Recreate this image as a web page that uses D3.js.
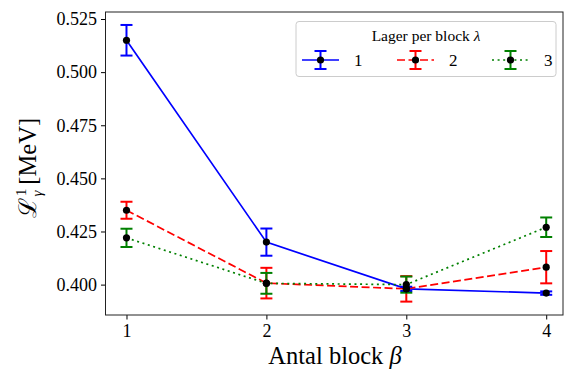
<!DOCTYPE html>
<html>
<head>
<meta charset="utf-8">
<script src="https://cdn.jsdelivr.net/npm/d3@7"></script>
<style>
  html, body { margin: 0; padding: 0; background: #fff; }
  svg { display: block; font-family: "Liberation Serif", "DejaVu Serif", serif; }
</style>
</head>
<body>
<svg id="chart" width="564" height="369"></svg>
<script>
// Number of blocks on the x axis
const blocks = [1, 2, 3, 4];
// Layers per block (legend entries)
const layers = ["1", "2", "3"];
// Mean values and errors for each layer count
const values1 = [0.515, 0.420, 0.398, 0.396];
const errors1 = [0.0072, 0.0064, 0.0010, 0.0008];
const values2 = [0.435, 0.4007, 0.398, 0.4082];
const errors2 = [0.0040, 0.0072, 0.0060, 0.0076];
const values3 = [0.422, 0.4006, 0.400, 0.427];
const errors3 = [0.0043, 0.0049, 0.0038, 0.0046];
const yTicks = [0.400, 0.425, 0.450, 0.475, 0.500, 0.525];

const series = [
  { name: layers[0], values: values1, errors: errors1, color: "#0000ff", dash: null },
  { name: layers[1], values: values2, errors: errors2, color: "#ff0000", dash: "8,3.5" },
  { name: layers[2], values: values3, errors: errors3, color: "#008000", dash: "2,3.6" }
];

const serif = "Liberation Serif, DejaVu Serif, serif";
const svg = d3.select("#chart");
const mLeft = 105.5, mRight = 563, mTop = 12, mBottom = 315;

const x = d3.scaleLinear().domain([0.85, 4.12]).range([mLeft, mRight]);
const y = d3.scaleLinear().domain([0.3857, 0.5283]).range([mBottom, mTop]);

// Axes
const xAxis = svg.append("g")
  .attr("transform", `translate(0,${mBottom})`)
  .call(d3.axisBottom(x).tickValues(blocks).tickFormat(d3.format("d")).tickSize(4.5).tickPadding(5));
const yAxis = svg.append("g")
  .attr("transform", `translate(${mLeft},0)`)
  .call(d3.axisLeft(y).tickValues(yTicks).tickFormat(d3.format(".3f")).tickSize(4.5).tickPadding(4));
[xAxis, yAxis].forEach(g => {
  g.attr("font-family", serif).attr("font-size", 18);
  g.select(".domain").remove();
  g.selectAll("line").attr("stroke", "#000").attr("stroke-width", 1);
  g.selectAll("text").attr("fill", "#000");
});

// Frame
svg.append("rect")
  .attr("x", mLeft).attr("y", mTop)
  .attr("width", mRight - mLeft).attr("height", mBottom - mTop)
  .attr("fill", "none").attr("stroke", "#222").attr("stroke-width", 1);

const plot = svg.append("g");
const line = d3.line().x((d, i) => x(blocks[i])).y(d => y(d));
const capW = 6;

series.forEach(s => {
  plot.append("path")
    .datum(s.values)
    .attr("d", line)
    .attr("fill", "none")
    .attr("stroke", s.color)
    .attr("stroke-width", 1.7)
    .attr("stroke-dasharray", s.dash);
});

series.forEach(s => {
  const g = plot.append("g");
  s.values.forEach((v, i) => {
    const cx = x(blocks[i]);
    const y0 = y(v - s.errors[i]), y1 = y(v + s.errors[i]);
    g.append("line").attr("x1", cx).attr("x2", cx).attr("y1", y0).attr("y2", y1)
      .attr("stroke", s.color).attr("stroke-width", 2);
    [y0, y1].forEach(yy => {
      g.append("line").attr("x1", cx - capW).attr("x2", cx + capW).attr("y1", yy).attr("y2", yy)
        .attr("stroke", s.color).attr("stroke-width", 2);
    });
  });
});

series.forEach(s => {
  plot.append("g").selectAll("circle").data(s.values).join("circle")
    .attr("cx", (d, i) => x(blocks[i]))
    .attr("cy", d => y(d))
    .attr("r", 3.6)
    .attr("fill", "#000");
});

// Axis titles
svg.append("text")
  .attr("x", 335).attr("y", 364)
  .attr("text-anchor", "middle")
  .attr("font-family", serif)
  .attr("font-size", 24.5)
  .html('Antal block <tspan font-style="italic">β</tspan>');

const yl = svg.append("text")
  .attr("transform", `translate(36,168) rotate(-90)`)
  .attr("text-anchor", "middle")
  .attr("font-family", serif)
  .attr("font-size", 24.5);
yl.append("tspan").attr("font-family", "DejaVu Serif").text("ℒ");
yl.append("tspan").attr("dx", 2).attr("dy", -10).attr("font-size", 15).text("1");
yl.append("tspan").attr("dx", -8).attr("dy", 16).attr("font-style", "italic").attr("font-size", 15).text("γ");
yl.append("tspan").attr("dy", -6).attr("dx", 6).text("[MeV]");

// Legend
const lg = svg.append("g").attr("font-family", serif);
lg.append("rect")
  .attr("x", 296).attr("y", 21.5).attr("width", 260).attr("height", 55).attr("rx", 3)
  .attr("fill", "#fff").attr("fill-opacity", 0.85)
  .attr("stroke", "#ccc").attr("stroke-width", 1);
lg.append("text")
  .attr("x", 426).attr("y", 41)
  .attr("text-anchor", "middle")
  .attr("font-size", 15.5)
  .html('Lager per block <tspan font-style="italic">λ</tspan>');

const entryX = [302, 397, 492];
series.forEach((s, i) => {
  const x0 = entryX[i], x1 = x0 + 37, cy = 60, mx = (x0 + x1) / 2;
  const e = lg.append("g");
  e.append("line").attr("x1", x0).attr("x2", x1).attr("y1", cy).attr("y2", cy)
    .attr("stroke", s.color).attr("stroke-width", 1.7).attr("stroke-dasharray", s.dash);
  e.append("line").attr("x1", mx).attr("x2", mx).attr("y1", cy - 9).attr("y2", cy + 9)
    .attr("stroke", s.color).attr("stroke-width", 2);
  [cy - 9, cy + 9].forEach(yy => e.append("line")
    .attr("x1", mx - capW).attr("x2", mx + capW).attr("y1", yy).attr("y2", yy)
    .attr("stroke", s.color).attr("stroke-width", 2));
  e.append("circle").attr("cx", mx).attr("cy", cy).attr("r", 3.6).attr("fill", "#000");
  e.append("text").attr("x", x1 + 15).attr("y", cy + 5.5)
    .attr("font-size", 17).text(s.name);
});
</script>
</body>
</html>
